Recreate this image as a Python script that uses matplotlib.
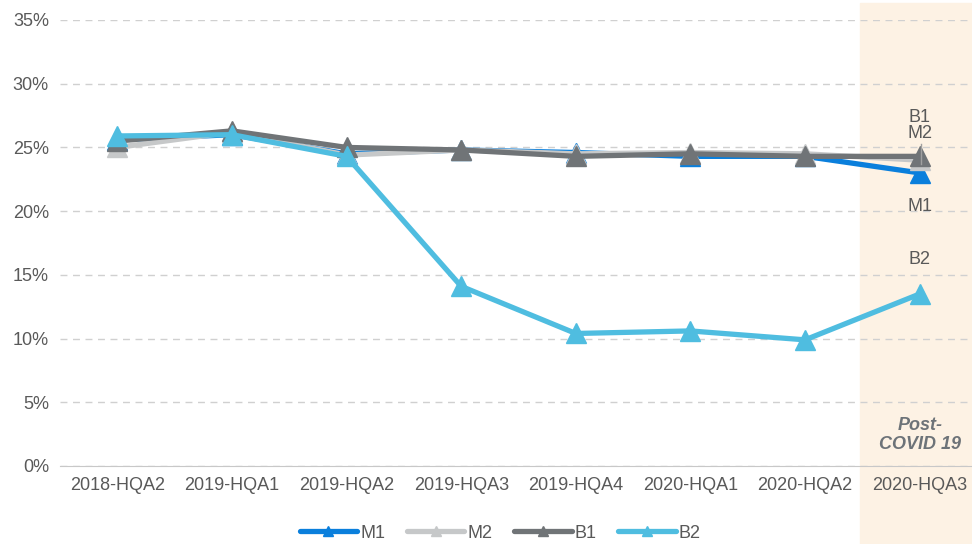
import matplotlib.pyplot as plt
from matplotlib.patches import Rectangle

plt.rcParams['font.family'] = ['Liberation Sans', 'DejaVu Sans']

periods = ['2018-HQA2', '2019-HQA1', '2019-HQA2', '2019-HQA3', '2019-HQA4',
           '2020-HQA1', '2020-HQA2', '2020-HQA3']
m1 = [25.6, 26.0, 24.5, 24.8, 24.6, 24.3, 24.3, 23.0]
m2 = [25.0, 26.2, 24.4, 24.8, 24.5, 24.6, 24.5, 24.0]
b1 = [25.5, 26.3, 25.0, 24.8, 24.3, 24.5, 24.3, 24.3]
b2 = [25.9, 26.0, 24.3, 14.1, 10.4, 10.6, 9.9, 13.5]

names = ['M1', 'M2', 'B1', 'B2']
colors = ['#0a7fdc', '#c6c8c9', '#707477', '#4fbde0']
series = [m1, m2, b1, b2]

fig = plt.figure(figsize=(9.72, 5.44), dpi=100)
ax = fig.add_axes([60 / 972, 1 - 466 / 544, 917 / 972, 446 / 544])

# shaded post-covid column (figure level, runs full height)
fig.patches.append(Rectangle((860 / 972, 0), 112 / 972, 1 - 3 / 544,
                             transform=fig.transFigure, color='#fdf2e4', zorder=-1))
ax.patch.set_alpha(0)

x = list(range(len(periods)))
for name, c, s in zip(names, colors, series):
    ax.plot(x, [v / 100 for v in s], color=c, lw=3.8, marker='^', ms=15,
            label=name, solid_capstyle='round', zorder=3)

ax.set_xlim(-0.5, 7.5)
ax.set_ylim(0, 0.35)
ax.set_yticks([i * 0.05 for i in range(8)])
ax.set_yticklabels([f'{i * 5}%' for i in range(8)])
ax.set_xticks(x)
ax.set_xticklabels(periods)
ax.tick_params(length=0, labelsize=13, colors='#595959', pad=8)
ax.grid(axis='y', ls=(0, (5, 4)), color='#d0d0d0', lw=1)
for sp in ['top', 'right', 'left']:
    ax.spines[sp].set_visible(False)
ax.spines['bottom'].set_color('#c8c8c8')

# end labels
lab = dict(ha='center', va='center', fontsize=13, color='#595959')
ax.text(7, 0.2735, 'B1', **lab)
ax.text(7, 0.261, 'M2', **lab)
ax.text(7, 0.204, 'M1', **lab)
ax.text(7, 0.162, 'B2', **lab)
ax.plot([7.01, 7.01], [0.237, 0.253], color='#a0a0a0', lw=1, zorder=4)

ax.text(7, 0.0245, 'Post-\nCOVID 19', ha='center', va='center', fontsize=13,
        color='#6d7378', fontweight='bold', fontstyle='italic', linespacing=1.15)

leg = ax.legend(loc='center', bbox_to_anchor=((500 - 60) / 917, -67 / 446), ncol=4,
                frameon=False, fontsize=13, markerscale=0.45,
                handlelength=3.2, columnspacing=1.2, handletextpad=0.15)
for t in leg.get_texts():
    t.set_color('#595959')

fig.savefig('out.png', dpi=100)
